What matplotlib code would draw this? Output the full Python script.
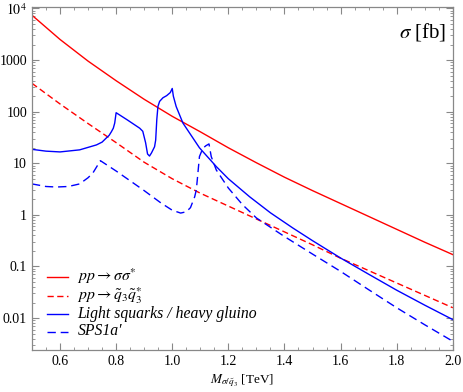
import matplotlib
matplotlib.use("Agg")
import matplotlib.pyplot as plt
from matplotlib.lines import Line2D
import numpy as np

# y values stored as log10(sigma / fb)
red_x = [0.5, 0.6, 0.7, 0.8, 0.9, 1.0, 1.1, 1.2, 1.3, 1.4, 1.5, 1.6, 1.7, 1.8, 1.9, 2.0]
red_log = [3.87, 3.40, 2.98, 2.60, 2.24, 1.91, 1.61, 1.30, 1.01, 0.73, 0.47, 0.22,
           -0.03, -0.28, -0.53, -0.77]

stop_x = [0.5, 0.6, 0.7, 0.8, 0.9, 1.0, 1.1, 1.2, 1.3, 1.4, 1.5, 1.6, 1.7, 1.8, 1.9, 2.0]
stop_log = [2.55, 2.15, 1.77, 1.40, 1.02, 0.70, 0.42, 0.17, -0.08, -0.33, -0.58, -0.84,
            -1.08, -1.32, -1.56, -1.80]

light_x = [0.5, 0.55, 0.6, 0.67, 0.73, 0.75, 0.765, 0.775, 0.783, 0.79, 0.795, 0.80,
           0.84, 0.884, 0.895, 0.905, 0.912, 0.919, 0.926, 0.937, 0.941, 0.945, 0.949,
           0.955, 0.967, 0.98, 0.993, 1.0, 1.004, 1.014, 1.038, 1.097, 1.157, 1.2,
           1.276, 1.35, 1.43, 1.5, 1.6, 1.7, 1.8, 1.9, 2.0]
light_log = [1.27, 1.235, 1.22, 1.26, 1.356, 1.41, 1.49, 1.54, 1.61, 1.68, 1.78, 1.98,
             1.84, 1.68, 1.62, 1.40, 1.18, 1.14, 1.20, 1.32, 1.45, 1.85, 2.10,
             2.20, 2.27, 2.31, 2.37, 2.45, 2.30, 2.10, 1.78, 1.30, 0.936, 0.70,
             0.35, 0.04, -0.255, -0.50, -0.836, -1.15, -1.46, -1.75, -2.03]

sps_x = [0.5, 0.55, 0.587, 0.63, 0.67, 0.70, 0.717, 0.735, 0.744, 0.8, 0.9, 0.96, 1.0,
         1.03, 1.05, 1.065, 1.08, 1.086, 1.097, 1.109, 1.12, 1.131, 1.139, 1.157, 1.2,
         1.25, 1.3, 1.4, 1.5, 1.6, 1.7, 1.8, 1.9, 2.0]
sps_log = [0.60, 0.55, 0.54, 0.55, 0.60, 0.72, 0.81, 0.97, 1.05, 0.85, 0.47, 0.23, 0.09,
           0.035, 0.06, 0.14, 0.35, 0.49, 1.13, 1.29, 1.34, 1.375, 1.13, 0.87, 0.52,
           0.20, -0.06, -0.42, -0.76, -1.095, -1.45, -1.80, -2.13, -2.45]

labels = [r"$pp \rightarrow \sigma\sigma^{*}$",
          r"$pp \rightarrow \tilde{q}_3\tilde{q}_3^{*}$",
          "Light squarks / heavy gluino",
          "SPS1a\u2032"]

xticks = [0.6, 0.8, 1.0, 1.2, 1.4, 1.6, 1.8, 2.0]
yticks = [0.01, 0.1, 1, 10, 100, 1000, 1e4]
yticklabels = ["0.01", "0.1", "1", "10", "100", "1000", r"$10^{4}$"]

plt.rcParams["font.family"] = ["Liberation Serif", "DejaVu Serif"]
plt.rcParams["mathtext.fontset"] = "stix"

fig = plt.figure(figsize=(4.63, 3.92), dpi=100)
ax = fig.add_axes([0.069, 0.107, 0.909, 0.874])

lw = 1.0
styles = [dict(color="red"),
          dict(color="red", dashes=(4.5, 2.5)),
          dict(color="blue"),
          dict(color="blue", dashes=(6, 3.5))]
series = [(red_x, red_log), (stop_x, stop_log), (light_x, light_log), (sps_x, sps_log)]
for (xs, logs), st in zip(series, styles):
    ax.plot(xs, 10 ** np.array(logs), lw=lw, **st)

ax.set_yscale("log")
ax.set_xlim(0.5, 2.0)
ax.set_ylim(10 ** -2.62, 10 ** 4.02)
ax.set_xticks(xticks)
ax.set_xticklabels([f"{t:.1f}" for t in xticks])
ax.set_xticks(np.arange(0.5, 2.0001, 0.05), minor=True)
ax.set_yticks(yticks)
ax.set_yticklabels(yticklabels)
ax.yaxis.set_minor_locator(matplotlib.ticker.LogLocator(base=10, subs=np.arange(2, 10)))
ax.yaxis.set_minor_formatter(matplotlib.ticker.NullFormatter())

ax.tick_params(which="both", direction="in", top=True, right=True, color="#888888",
               labelsize=10)
ax.tick_params(which="major", length=5, width=0.8)
ax.tick_params(which="minor", length=2.5, width=0.6)
for s in ax.spines.values():
    s.set_color("#888888")
    s.set_linewidth(0.9)

ax.text(0.985, 0.928, r"$\sigma$ [fb]", transform=ax.transAxes, ha="right",
        va="center", fontsize=15)
ax.set_xlabel(r"$M_{\sigma/\tilde{q}_3}$ [TeV]", fontsize=9.5, va="center")
ax.xaxis.set_label_coords(0.5, -0.09)

# legend laid out by hand so the rows are evenly spaced like the original
row_y = [0.212, 0.157, 0.105, 0.053]
for lab, st, y in zip(labels, styles, row_y):
    ax.add_line(Line2D([0.035, 0.085], [y, y], transform=ax.transAxes, lw=lw, **st))
    ax.text(0.108, y - 0.01, lab, transform=ax.transAxes, fontsize=11.3,
            style="italic", va="baseline", ha="left")

fig.savefig("out.png", dpi=100)
